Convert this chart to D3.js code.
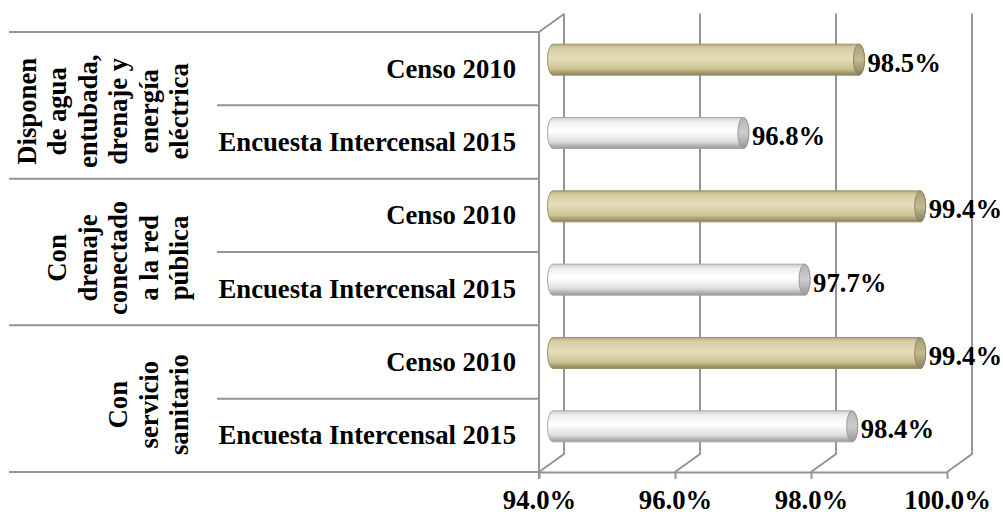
<!DOCTYPE html>
<html>
<head>
<meta charset="utf-8">
<script src="https://cdn.jsdelivr.net/npm/d3@7"></script>
<style>
  html, body { margin: 0; padding: 0; background: #fff; }
  svg text { font-family: "Liberation Serif", "Times New Roman", serif; font-weight: bold; fill: #000; }
</style>
</head>
<body>
<svg id="chart" width="1003" height="514"></svg>
<script>
// ---- data ----
const groups = [
  ["Disponen", "de agua", "entubada,", "drenaje y", "energía", "eléctrica"],
  ["Con", "drenaje", "conectado", "a la red", "pública"],
  ["Con", "servicio", "sanitario"]
];
const categories = ["Censo 2010", "Encuesta Intercensal 2015"];
const valuesCenso = [98.5, 99.4, 99.4];
const valuesEncuesta = [96.8, 97.7, 98.4];
const tickValues = [94, 96, 98, 100];

(function () {
const rows = [];
groups.forEach((g, gi) => {
  rows.push({ key: gi + "-0", group: gi, cat: categories[0], value: valuesCenso[gi], series: 0 });
  rows.push({ key: gi + "-1", group: gi, cat: categories[1], value: valuesEncuesta[gi], series: 1 });
});

const svg = d3.select("#chart");
const pLeft = 539, pRight = 947, pTop = 32, pBottom = 472;
const DX = 25, DY = -18;
const lineColor = "#959595";

const x = d3.scaleLinear().domain([94, 100]).range([pLeft, pRight]);
const y = d3.scaleBand().domain(rows.map(r => r.key)).range([pTop, pBottom]).padding(0);
const gy = d3.scaleBand().domain(groups.map((g, i) => i)).range([pTop, pBottom]).padding(0);

const defs = svg.append("defs");
function grad(id, stops) {
  const g = defs.append("linearGradient").attr("id", id).attr("x1", 0).attr("y1", 0).attr("x2", 0).attr("y2", 1);
  stops.forEach(s => g.append("stop").attr("offset", s[0]).attr("stop-color", s[1]));
}
grad("gOlive", [[0, "#b3aa80"], [0.12, "#d6cd9f"], [0.45, "#e5debb"], [0.78, "#cec495"], [1, "#8a825a"]]);
grad("gWhite", [[0, "#cdcdcd"], [0.15, "#f0f0f0"], [0.45, "#ffffff"], [0.78, "#dedede"], [1, "#979797"]]);
grad("gOliveCap", [[0, "#a59c76"], [0.5, "#c4bb8f"], [1, "#877f5d"]]);
grad("gWhiteCap", [[0, "#b4b4b4"], [0.5, "#cccccc"], [1, "#979797"]]);

// back wall gridlines + floor diagonals
const walls = svg.append("g");
tickValues.forEach(v => {
  walls.append("path")
    .attr("d", `M${x(v) + DX},${pTop + DY - 0.5} L${x(v) + DX},${pBottom + DY} L${x(v)},${pBottom}`)
    .attr("fill", "none").attr("stroke", lineColor).attr("stroke-width", 2);
});
walls.append("line").attr("x1", pLeft).attr("y1", pTop).attr("x2", pLeft + DX).attr("y2", pTop + DY)
  .attr("stroke", lineColor).attr("stroke-width", 2);

// table lines
const table = svg.append("g");
[pTop, ...groups.map((g, i) => gy(i) + gy.bandwidth())].forEach(yy => {
  table.append("line").attr("x1", 9).attr("x2", pLeft).attr("y1", yy).attr("y2", yy)
    .attr("stroke", lineColor).attr("stroke-width", 2);
});
groups.forEach((g, i) => {
  const yy = y(i + "-0") + y.bandwidth();
  table.append("line").attr("x1", 217).attr("x2", pLeft).attr("y1", yy).attr("y2", yy)
    .attr("stroke", lineColor).attr("stroke-width", 2);
});
table.append("line").attr("x1", pLeft).attr("x2", pLeft).attr("y1", pTop).attr("y2", pBottom + 7)
  .attr("stroke", lineColor).attr("stroke-width", 2);

// x axis
const axis = d3.axisBottom(x).tickValues(tickValues).tickSize(7).tickSizeOuter(0)
  .tickFormat(d => d3.format(".1f")(d) + "%");
const ax = svg.append("g").attr("transform", `translate(0,${pBottom})`).call(axis);
ax.attr("font-family", null).attr("font-size", null);
ax.select(".domain").attr("stroke", lineColor).attr("stroke-width", 2);
ax.selectAll(".tick line").attr("stroke", lineColor).attr("stroke-width", 2);
ax.selectAll(".tick text").attr("y", 37).attr("dy", 0)
  .style("font-size", "26.7px").attr("fill", "#000");

// row labels
svg.append("g").selectAll("text").data(rows).join("text")
  .attr("x", 516).attr("y", d => y(d.key) + y.bandwidth() / 2 + 9)
  .attr("text-anchor", "end").style("font-size", "26.7px")
  .text(d => d.cat);

// rotated group labels
const gl = svg.append("g");
groups.forEach((lines, gi) => {
  const cy = gy(gi) + gy.bandwidth() / 2 + 6;
  const n = lines.length;
  lines.forEach((ln, li) => {
    const cx = 179 - (n - 1 - li) * 30.5;
    gl.append("text")
      .attr("transform", `translate(${cx},${cy}) rotate(-90)`)
      .attr("text-anchor", "middle").attr("dominant-baseline", "central")
      .style("font-size", "26.7px")
      .text(ln);
  });
});

// cylinders
const BOFF = 14, RX = 5.5, RY = 15.5;
const bars = svg.append("g");
rows.forEach(r => {
  const cy = y(r.key) + y.bandwidth() / 2 - 9;
  const xl = x(94) + BOFF, xr = x(r.value) + BOFF;
  bars.append("path")
    .attr("d", `M${xl},${cy - RY} L${xr},${cy - RY} A${RX},${RY} 0 0 1 ${xr},${cy + RY} L${xl},${cy + RY} A${RX},${RY} 0 0 1 ${xl},${cy - RY} Z`)
    .attr("fill", r.series === 0 ? "url(#gOlive)" : "url(#gWhite)")
    .attr("stroke", r.series === 0 ? "#9a926c" : "#a8a8a8").attr("stroke-width", 1);
  bars.append("ellipse").attr("cx", xr).attr("cy", cy).attr("rx", RX).attr("ry", RY)
    .attr("fill", r.series === 0 ? "url(#gOliveCap)" : "url(#gWhiteCap)")
    .attr("stroke", r.series === 0 ? "#8f875f" : "#9a9a9a").attr("stroke-width", 1);
  bars.append("text")
    .attr("x", xr + RX + 3).attr("y", cy + 12)
    .style("font-size", "26.7px")
    .text(d3.format(".1f")(r.value) + "%");
});
})();
</script>
</body>
</html>
